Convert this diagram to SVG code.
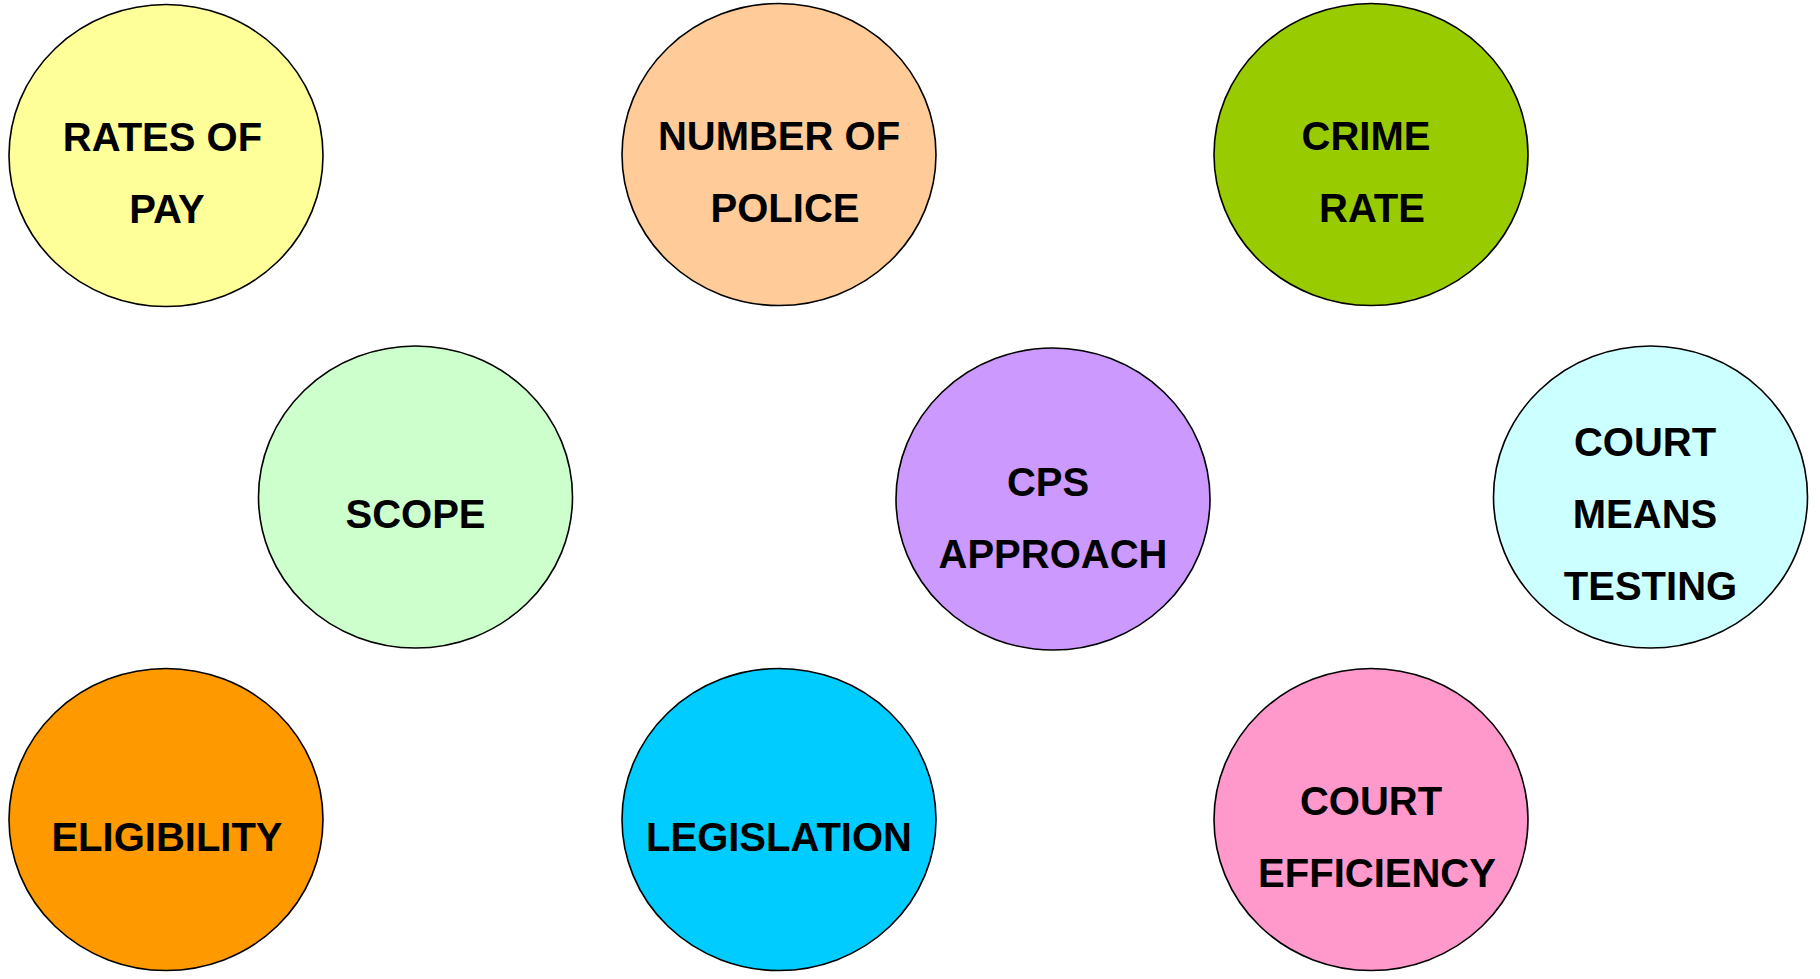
<svg xmlns="http://www.w3.org/2000/svg" width="1820" height="979" viewBox="0 0 1820 979">
<style>
.n{stroke:#000;stroke-width:1.6}
.t{font-family:"Liberation Sans",Arial,sans-serif;font-weight:bold;font-size:40px;fill:#000;text-anchor:middle}
</style>
<rect width="1820" height="979" fill="#fff"/>
<g id="connectors"></g>
<g id="rates-of-pay"><ellipse class="n" cx="166" cy="155.5" rx="157" ry="151" fill="#FFFF99"/><text class="t" x="162.5" y="151">RATES OF</text><text class="t" x="167" y="223">PAY</text></g>
<g id="number-of-police"><ellipse class="n" cx="779" cy="154.5" rx="157" ry="151" fill="#FFCC99"/><text class="t" x="779" y="150">NUMBER OF</text><text class="t" x="785" y="222">POLICE</text></g>
<g id="crime-rate"><ellipse class="n" cx="1371" cy="154.5" rx="157" ry="151" fill="#99CC00"/><text class="t" x="1366" y="150">CRIME</text><text class="t" x="1372" y="222">RATE</text></g>
<g id="scope"><ellipse class="n" cx="415.5" cy="497" rx="157" ry="151" fill="#CCFFCC"/><text class="t" x="415.5" y="528">SCOPE</text></g>
<g id="cps-approach"><ellipse class="n" cx="1053" cy="499" rx="157" ry="151" fill="#CC99FF"/><text class="t" x="1048" y="496">CPS</text><text class="t" x="1053" y="568">APPROACH</text></g>
<g id="court-means-testing"><ellipse class="n" cx="1650.5" cy="497" rx="157" ry="151" fill="#CCFFFF"/><text class="t" x="1645" y="456">COURT</text><text class="t" x="1645" y="528">MEANS</text><text class="t" x="1650.5" y="600">TESTING</text></g>
<g id="eligibility"><ellipse class="n" cx="166" cy="819.5" rx="157" ry="151" fill="#FF9900"/><text class="t" x="167" y="851">ELIGIBILITY</text></g>
<g id="legislation"><ellipse class="n" cx="779" cy="819.5" rx="157" ry="151" fill="#00CCFF"/><text class="t" x="779" y="851">LEGISLATION</text></g>
<g id="court-efficiency"><ellipse class="n" cx="1371" cy="819.5" rx="157" ry="151" fill="#FF99CC"/><text class="t" x="1371" y="815">COURT</text><text class="t" x="1377" y="887">EFFICIENCY</text></g>
</svg>
